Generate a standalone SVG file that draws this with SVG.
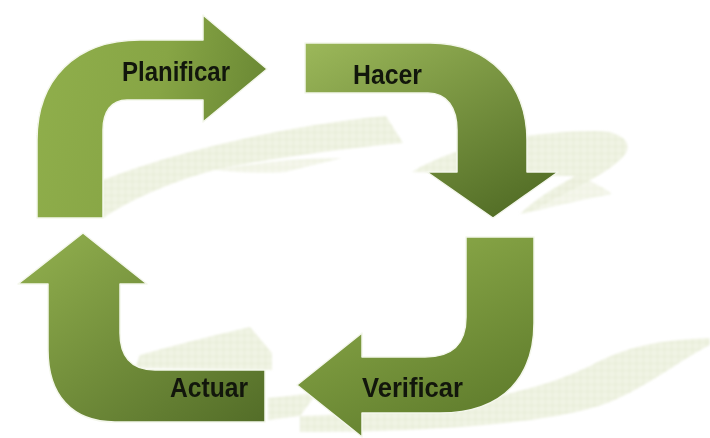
<svg xmlns="http://www.w3.org/2000/svg" width="710" height="438" viewBox="0 0 710 438">
  <defs>
    <!-- fine grid texture for the pale background ribbon -->
    <pattern id="grid" width="7" height="7" patternUnits="userSpaceOnUse">
      <rect width="7" height="7" fill="#eff2e2"/>
      <path d="M7 0V7M0 7H7" stroke="#dde4c7" stroke-width="1" fill="none"/>
    </pattern>
    <filter id="soft" x="-5%" y="-5%" width="110%" height="110%">
      <feGaussianBlur stdDeviation="0.8"/>
    </filter>
    <linearGradient id="gPlan" x1="0" y1="0.4" x2="1" y2="0.6">
      <stop offset="0" stop-color="#8fae4b"/>
      <stop offset="0.5" stop-color="#87a545"/>
      <stop offset="1" stop-color="#678532"/>
    </linearGradient>
    <linearGradient id="gHacer" x1="0" y1="0" x2="0.75" y2="1">
      <stop offset="0" stop-color="#9cb85a"/>
      <stop offset="1" stop-color="#546f27"/>
    </linearGradient>
    <linearGradient id="gVerif" x1="0.35" y1="0" x2="0.9" y2="1">
      <stop offset="0" stop-color="#8dab4a"/>
      <stop offset="1" stop-color="#5a7729"/>
    </linearGradient>
    <linearGradient id="gActuar" x1="0" y1="0" x2="1" y2="1">
      <stop offset="0" stop-color="#93b14f"/>
      <stop offset="1" stop-color="#536d28"/>
    </linearGradient>
  </defs>
  <style>
    .ribbon { fill: url(#grid); opacity: 0.9; }
    .under { fill: url(#grid); opacity: 0.7; }
    .arrow { stroke: #f4f7ec; stroke-width: 1.5; stroke-linejoin: round; }
    .label { font-family: "Liberation Sans", Arial, sans-serif; font-weight: bold; font-size: 27px; fill: #12160c; }
  </style>

  <rect width="710" height="438" fill="#ffffff"/>

  <!-- pale perspective ribbon behind the cycle -->
  <g id="background" filter="url(#soft)">
    <path class="ribbon" d="M103 180 C180 150 290 125 386 116 L403 143 C330 150 260 160 215 170 C170 182 130 200 103 218 Z"/>
    <path class="under" d="M215 170 C260 162 300 158 342 158 L285 172 C260 174 235 172 215 170 Z"/>
    <path class="ribbon" d="M412 172 C460 142 540 131 595 131 C625 131 635 145 622 158 C605 175 570 190 530 212 L520 214 C540 195 560 185 575 176 C530 176 470 173 412 172 Z"/>
    <path class="under" d="M575 176 C590 180 605 188 612 194 C590 198 560 205 530 212 Z"/>
    <path class="ribbon" d="M135 368 L140 355 C190 341 225 333 250 327 L272 353 L272 370 Z"/>
    <path class="ribbon" d="M268 398 C290 396 305 394 318 392 L300 416 L268 420 Z"/>
    <path class="ribbon" d="M300 416 C420 412 520 400 590 366 C620 350 650 340 710 338 L710 345 C680 360 650 385 610 402 C550 425 420 432 300 432 Z"/>
  </g>

  <!-- Planificar -->
  <g id="planificar">
    <path class="arrow" fill="url(#gPlan)" d="M37 218 L37 140 C37 80 75 40 140 40 L203 40 L203 15 L267 69 L203 122 L203 100 L127 100 C111 100 103 112 103 130 L103 218 Z"/>
    <text class="label" x="122" y="81" textLength="108" lengthAdjust="spacingAndGlyphs">Planificar</text>
  </g>

  <!-- Hacer -->
  <g id="hacer">
    <path class="arrow" fill="url(#gHacer)" d="M305 43 L430 43 C490 43 527 85 527 140 L527 172 L558 172 L493 218 L427 172 L457 172 L457 130 C457 108 447 93 428 93 L305 93 Z"/>
    <text class="label" x="353" y="84" textLength="69" lengthAdjust="spacingAndGlyphs">Hacer</text>
  </g>

  <!-- Verificar -->
  <g id="verificar">
    <path class="arrow" fill="url(#gVerif)" d="M466 237 L534 237 L534 323 C534 375 505 413 440 413 L362 413 L362 437 L297 385 L362 333 L362 357 L425 357 C452 357 466 345 466 317 Z"/>
    <text class="label" x="362" y="397" textLength="101" lengthAdjust="spacingAndGlyphs">Verificar</text>
  </g>

  <!-- Actuar -->
  <g id="actuar">
    <path class="arrow" fill="url(#gActuar)" d="M83 233 L147 284 L120 284 L120 333 C120 355 130 370 155 370 L265 370 L265 422 L115 422 C72 422 48 395 48 350 L48 284 L18 284 Z"/>
    <text class="label" x="170" y="397" textLength="78" lengthAdjust="spacingAndGlyphs">Actuar</text>
  </g>
</svg>
